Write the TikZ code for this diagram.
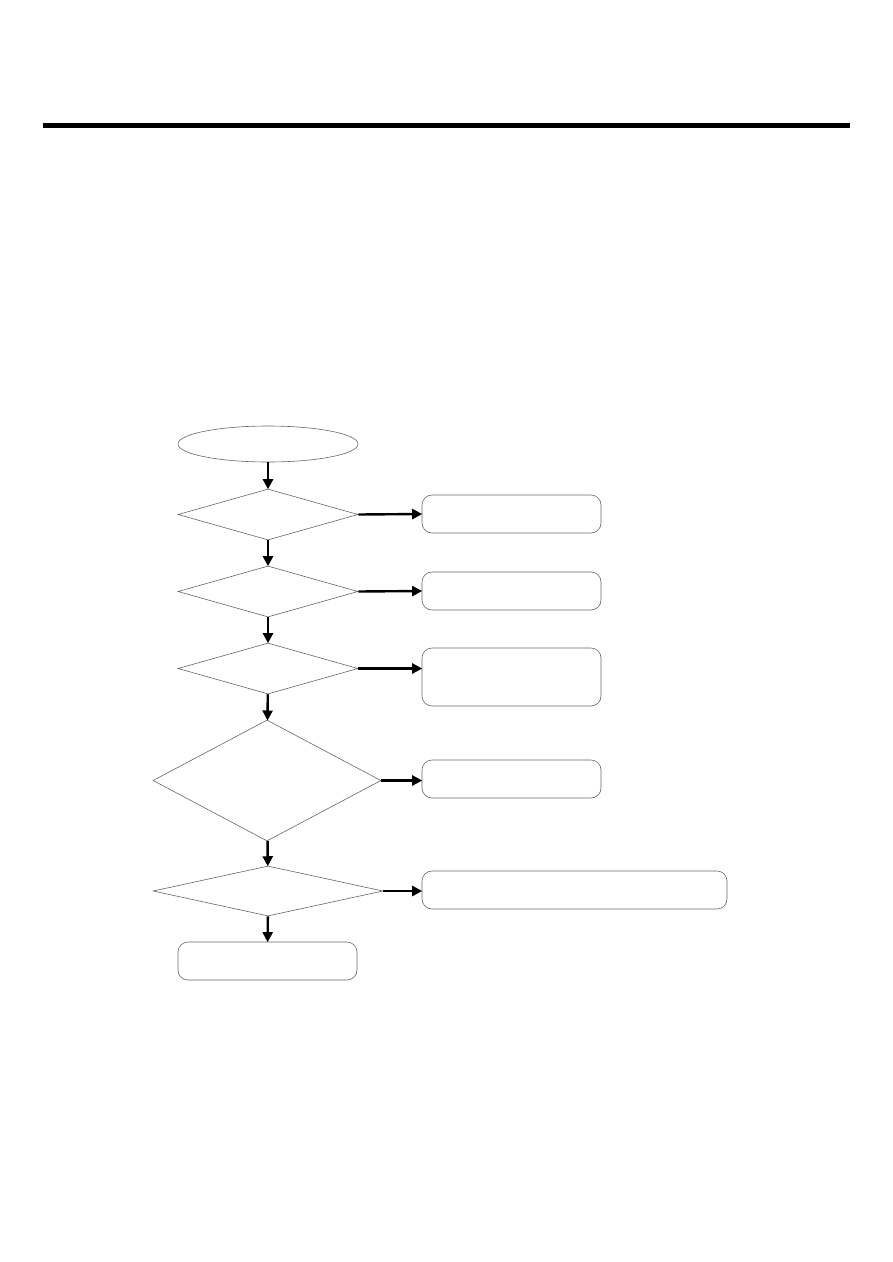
\documentclass[tikz,border=0pt]{standalone}
\usetikzlibrary{shapes.geometric,arrows.meta}
\begin{document}
\begin{tikzpicture}[x=1pt,y=-1pt,
  shp/.style={draw=black!60,line width=0.6pt,inner sep=0pt},
  dec/.style={shp,diamond},
  term/.style={shp,ellipse},
  actbox/.style={shp,rectangle,rounded corners=10pt},
  flow/.style={line width=2.4pt,-{Triangle[length=10pt,width=10pt]},shorten >=-0.5pt}]
\useasboundingbox (0,0) rectangle (893,1262);
\fill (43,123) rectangle (850,128);
\node[term,minimum width=180pt,minimum height=36pt] (start) at (268,444) {};
\node[dec,minimum width=180pt,minimum height=51pt] (d1) at (268,514.5) {};
\node[dec,minimum width=180pt,minimum height=51pt] (d2) at (268,591.5) {};
\node[dec,minimum width=180pt,minimum height=51pt] (d3) at (268,668.5) {};
\node[dec,minimum width=228pt,minimum height=121pt] (d4) at (267,780.5) {};
\node[dec,minimum width=230pt,minimum height=50pt] (d5) at (268,891) {};
\node[actbox,minimum width=179pt,minimum height=38pt] (b1) at (511.5,514) {};
\node[actbox,minimum width=179pt,minimum height=38pt] (b2) at (511.5,591) {};
\node[actbox,minimum width=179pt,minimum height=58pt] (b3) at (511.5,677) {};
\node[actbox,minimum width=179pt,minimum height=38pt] (b4) at (511.5,779) {};
\node[actbox,minimum width=305pt,minimum height=38pt] (b5) at (574.5,890) {};
\node[actbox,minimum width=179pt,minimum height=38pt] (end) at (267.5,961) {};
\draw[flow] (start) -- (d1);
\draw[flow] (d1) -- (d2);
\draw[flow] (d2) -- (d3);
\draw[flow] (d3) -- (d4);
\draw[flow] (d4) -- (d5);
\draw[flow] (d5) -- (end);
\draw[flow] (d1.east) -- (b1.west);
\draw[flow] (d2.east) -- (b2.west);
\draw[flow] (d3.east) -- (d3.east -| b3.west);
\draw[flow] (d4.east) -- (d4.east -| b4.west);
\draw[flow] (d5.east) -- (d5.east -| b5.west);
\end{tikzpicture}
\end{document}
